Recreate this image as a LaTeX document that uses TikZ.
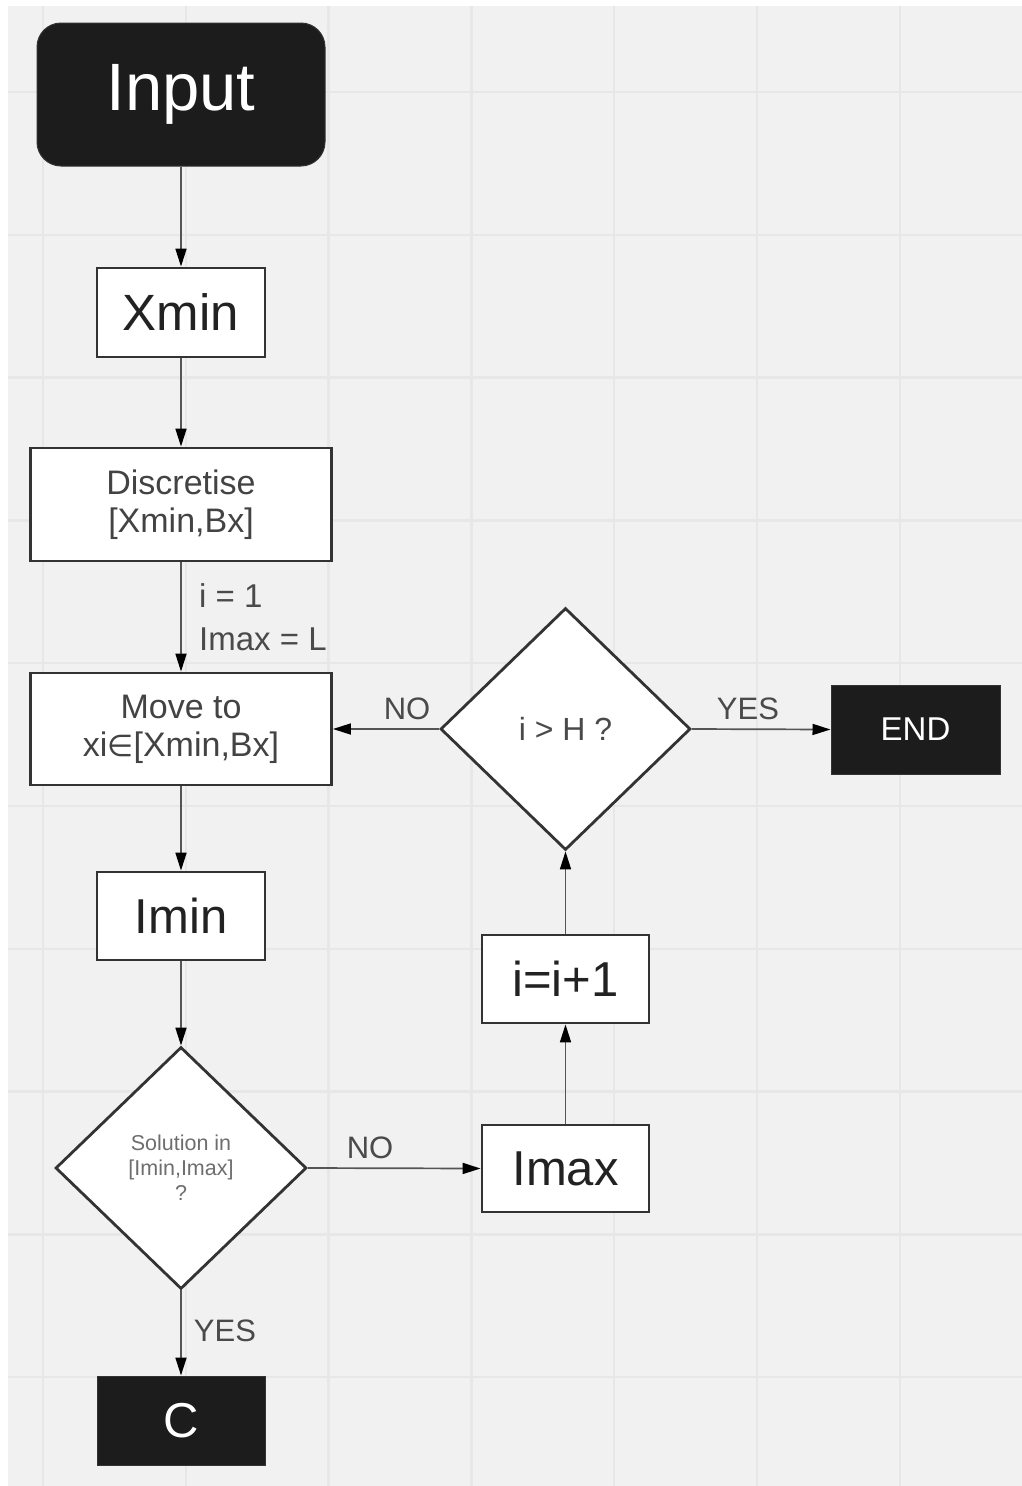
\documentclass[tikz,border=0pt]{standalone}
\usepackage{fontspec}
\setmainfont{Liberation Sans}
\newfontfamily\symfont{DejaVu Sans}
\usetikzlibrary{shapes.geometric,arrows.meta}
\definecolor{bgc}{HTML}{F1F1F1}
\definecolor{gridc}{HTML}{E7E7E7}
\definecolor{darkfill}{HTML}{1C1C1C}
\definecolor{edgec}{HTML}{333333}
\definecolor{txtc}{HTML}{222222}
\definecolor{lblc}{HTML}{4A4A4A}
\definecolor{arrc}{HTML}{555555}
\begin{document}
\begin{tikzpicture}[x=1pt,y=-1pt,
  box/.style={draw=edgec,line width=2.8pt,fill=white,inner sep=0pt,text=txtc,align=center},
  term/.style={draw=edgec,line width=1pt,fill=darkfill,inner sep=0pt,text=white,align=center},
  dec/.style={diamond,draw=edgec,line width=2.8pt,fill=white,inner sep=0pt,align=center},
  bigtxt/.style={font=\fontsize{49}{55}\selectfont},
  midtxt/.style={font=\fontsize{34}{38}\selectfont},
  lbl/.style={text=lblc,inner sep=0pt,font=\fontsize{31}{43}\selectfont},
  arr/.style={draw=arrc,line width=1.7pt,-{Triangle[length=18pt,width=11pt,color=black]}}
]
\useasboundingbox (0,0) rectangle (1022,1486);
\fill[white] (0,0) rectangle (1022,1486);
\fill[bgc] (8,6) rectangle (1022,1486);
\foreach \k in {0,...,6} \draw[gridc,line width=2.5pt] ({43+142.8*\k},6) -- ({43+142.8*\k},1486);
\foreach \k in {0,...,9} \draw[gridc,line width=2.5pt] (8,{92+142.8*\k}) -- (1022,{92+142.8*\k});

% nodes
\node[term,rounded corners=24pt,minimum width=288pt,minimum height=143pt,font=\fontsize{67}{67}\selectfont] (input) at (181,94.5) {Input};
\node[box,font=\fontsize{51}{55}\selectfont,minimum width=168pt,minimum height=89pt] (xmin) at (181,312.5) {Xmin};
\node[box,midtxt,text=txtc!85!white,minimum width=301pt,minimum height=113pt] (disc) at (181,504.5) {Discretise\\{}[Xmin,Bx]};
\node[box,midtxt,text=txtc!85!white,minimum width=301pt,minimum height=112pt] (move) at (181,729) {Move to\\xi{\symfont\fontsize{30}{38}\selectfont ∈}[Xmin,Bx]};
\node[box,bigtxt,minimum width=168pt,minimum height=88pt] (imin) at (181,916) {Imin};
\node[dec,minimum width=251pt,minimum height=242pt,text=lblc!80!white,font=\fontsize{21.5}{25}\selectfont] (sol) at (181,1168) {Solution in\\{}[Imin,Imax]\\?};
\node[box,bigtxt,minimum width=167pt,minimum height=87pt] (imax) at (565.5,1168.5) {Imax};
\node[box,bigtxt,minimum width=167pt,minimum height=88pt] (inc) at (565.5,979) {i=i+1};
\node[dec,minimum width=250pt,minimum height=242pt,text=lblc,font=\fontsize{32}{38}\selectfont] (ih) at (565.5,729) {i > H ?};
\node[term,minimum width=169pt,minimum height=89pt,font=\fontsize{33}{36}\selectfont] (endn) at (915.5,729.5) {END};
\node[term,minimum width=168pt,minimum height=89pt,font=\fontsize{49}{55}\selectfont] (cn) at (181,1420.5) {C};

% connectors
\draw[arr] (input.south) -- (xmin.north);
\draw[arr] (xmin.south) -- (disc.north);
\draw[arr] (disc.south) -- (move.north);
\draw[arr] (move.south) -- (imin.north);
\draw[arr] (imin.south) -- (sol.north);
\draw[arr] (sol.south) -- (cn.north);
\draw[arr] (sol.east) -- (imax.west);
\draw[arr] (imax.north) -- (inc.south);
\draw[arr] (inc.north) -- (ih.south);
\draw[arr] (ih.west) -- (move.east);
\draw[arr] (ih.east) -- (endn.west);

% labels
\node[lbl,anchor=west,align=left,font=\fontsize{33}{43}\selectfont] (initlbl) at (199,617) {i = 1\\Imax = L};
\node[lbl] (nohi) at (407,709) {NO};
\node[lbl] (yeshi) at (748,709) {YES};
\node[lbl] (nolo) at (370,1148) {NO};
\node[lbl] (yeslo) at (225,1331) {YES};
\end{tikzpicture}
\end{document}
